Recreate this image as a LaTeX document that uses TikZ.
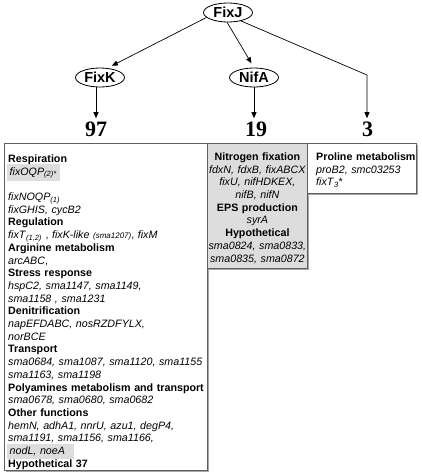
\documentclass[tikz,border=0pt]{standalone}
\usepackage{fontspec}
\setmainfont{Liberation Sans}
\newfontfamily\numfont{Liberation Serif}
\usetikzlibrary{shapes.geometric,arrows.meta,shadows}
\definecolor{boxgray}{RGB}{221,221,221}
\definecolor{framegray}{RGB}{95,95,95}
\newcommand{\shadeit}[1]{\hspace*{-1.5pt}\smash{\colorbox{boxgray}{#1}}}

\begin{document}
\begin{tikzpicture}[x=1pt,y=-1pt,
  reg/.style={draw,ellipse,line width=0.8pt,minimum width=49pt,minimum height=19pt,inner sep=0pt,font=\fontsize{14.5}{14.5}\selectfont\bfseries},
  count/.style={anchor=base,inner sep=0pt,font=\numfont\fontsize{22}{22}\selectfont\bfseries},
  arr/.style={line width=0.7pt,-{Triangle[length=6pt,width=5pt]}},
  genebox/.style={draw=framegray,line width=0.8pt,fill=white,anchor=north west,inner sep=0pt,
    drop shadow={shadow xshift=1.5pt,shadow yshift=-1.5pt,fill=gray!70,opacity=1}},
  genetext/.style={inner sep=0pt,font=\fontsize{10.7}{12.7}\selectfont}]
\useasboundingbox (0,0) rectangle (422,474);

% regulators
\node[reg] (fixj) at (228,12.5) {FixJ};
\node[reg] (fixk) at (100,77.5) {FixK};
\node[reg] (nifa) at (254,77.5) {NifA};

% number of targets
\node[count] (n97) at (96,136) {97};
\node[count] (n19) at (256,136) {19};
\node[count] (n3) at (367.5,136) {3};
\coordinate (bend) at (367,75);

\draw[arr,shorten >=5pt] (fixj.193) -- (fixk.52);
\draw[arr,shorten >=5pt] (fixj.-95) -- (nifa.north);
\draw[arr,shorten >=3pt] (fixj.-33) -- (bend) -- (bend |- n3.north);
\draw[arr,shorten >=3pt] (n97 |- fixk.south) -- (n97.north -| n97);
\draw[arr,shorten >=3pt] (nifa.south) -- (nifa.south |- n19.north);

% gene boxes
\node[genebox,minimum width=203pt,minimum height=327pt] (fixkbox) at (4,143) {};
\node[genebox,fill=boxgray,minimum width=100pt,minimum height=125pt] (nifabox) at (207,143) {};
\node[genebox,minimum width=109pt,minimum height=50pt] (fixjbox) at (307,143) {};

\node[genetext,anchor=north west,text width=200pt,align=left] (fixklist)
  at ([xshift=4pt,yshift=-11.5pt]fixkbox.north west) {%
\textbf{Respiration}\\
\shadeit{\textit{fixOQP}\textsubscript{\textit{(2)*}}}\\[12.7pt]
\textit{fixNOQP}\textsubscript{\textit{(1)}}\\
\textit{fixGHIS, cycB2}\\
\textbf{Regulation}\\
\textit{fixT}\textsubscript{\textit{(1,2)}} , \textit{fixK-like} {\fontsize{8}{8}\selectfont\textit{(sma1207)}}, \textit{fixM}\\
\textbf{Arginine metabolism}\\
\textit{arcABC},\\
\textbf{Stress response}\\
\textit{hspC2, sma1147, sma1149,}\\
\textit{sma1158 , sma1231}\\
\textbf{Denitrification}\\
\textit{napEFDABC, nosRZDFYLX,}\\
\textit{norBCE}\\
\textbf{Transport}\\
\textit{sma0684, sma1087, sma1120, sma1155}\\
\textit{sma1163, sma1198}\\
\textbf{Polyamines metabolism and transport}\\
\textit{sma0678, sma0680, sma0682}\\
\textbf{Other functions}\\
\textit{hemN, adhA1, nnrU, azu1, degP4,}\\
\textit{sma1191, sma1156, sma1166,}\\
\shadeit{\textit{nodL, noeA}\hspace{6pt}}\\
\textbf{Hypothetical 37}};

\node[genetext,anchor=north,text width=104pt,align=center] (nifalist)
  at ([yshift=-9.5pt]nifabox.north) {%
\textbf{Nitrogen fixation}\\
\textit{fdxN, fdxB, fixABCX}\\
\textit{fixU, nifHDKEX,}\\
\textit{nifB, nifN}\\
\textbf{EPS production}\\
\textit{syrA}\\
\textbf{Hypothetical}\\
\textit{sma0824, sma0833,}\\
\textit{sma0835, sma0872}};

\node[genetext,anchor=north west,text width=100pt,align=left] (fixjlist)
  at ([xshift=9pt,yshift=-9.5pt]fixjbox.north west) {%
\textbf{Proline metabolism}\\
\textit{proB2, smc03253}\\
\textit{fixT}\textsubscript{\textit{3}}*};

\end{tikzpicture}
\end{document}
